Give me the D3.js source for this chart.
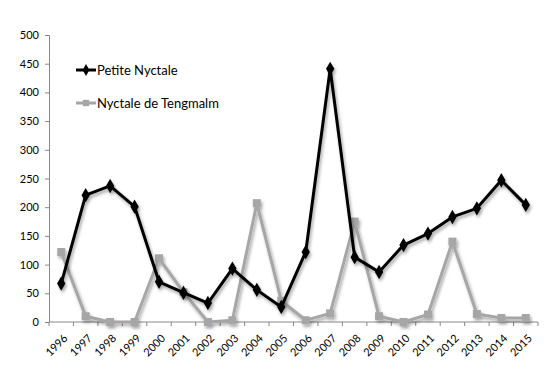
<!DOCTYPE html>
<html>
<head>
<meta charset="utf-8">
<script src="https://d3js.org/d3.v7.min.js"></script>
<style>
body{margin:0;background:#fff;}
text{font-family:Lato,"Open Sans",sans-serif;}
</style>
</head>
<body>
<div id="chart"></div>
<script>
// données
var annees = ["1996","1997","1998","1999","2000","2001","2002","2003","2004","2005","2006","2007","2008","2009","2010","2011","2012","2013","2014","2015"];
var petiteNyctale = [67,221,237,201,70,51,33,93,56,26,122,441,113,87,134,154,183,198,247,204];
var tengmalm = [122,10,0,0,111,52,0,3,207,37,3,15,175,10,0,13,140,14,7,7];
var yTicks = [0,50,100,150,200,250,300,350,400,450,500];

var W = 550, H = 385;
var m = {top:35, right:12, bottom:63, left:49};

var svg = d3.select("#chart").append("svg")
	.attr("width", W).attr("height", H);

var defs = svg.append("defs");
var f = defs.append("filter").attr("id","ombre")
	.attr("x","-20%").attr("y","-20%").attr("width","140%").attr("height","140%");
f.append("feDropShadow").attr("dx",1.5).attr("dy",2.5).attr("stdDeviation",1.6)
	.attr("flood-color","#000").attr("flood-opacity",0.35);

var x = d3.scaleBand().domain(annees).range([m.left, W - m.right]);
var y = d3.scaleLinear().domain([0,500]).range([H - m.bottom, m.top]);

// axe Y
var axeY = svg.append("g")
	.attr("transform","translate(" + m.left + ",0)")
	.call(d3.axisLeft(y).tickValues(yTicks).tickSize(4).tickPadding(6));
axeY.select(".domain").attr("stroke","#888");
axeY.selectAll(".tick line").attr("stroke","#888");
axeY.selectAll("text").attr("font-size","11px").attr("fill","#000");

// axe X (graduations entre les catégories)
var axeX = svg.append("g")
	.attr("transform","translate(0," + (H - m.bottom) + ")");
axeX.append("line")
	.attr("x1", m.left).attr("x2", W - m.right)
	.attr("stroke","#888");
var bords = annees.map(function(d){ return x(d); }).concat([x(annees[annees.length-1]) + x.bandwidth()]);
axeX.selectAll(".grad").data(bords).enter().append("line")
	.attr("x1", function(d){ return d; }).attr("x2", function(d){ return d; })
	.attr("y1",0).attr("y2",4).attr("stroke","#888");
axeX.selectAll(".lab").data(annees).enter().append("text")
	.attr("transform", function(d){
		return "translate(" + (x(d) + x.bandwidth()/2 + 7) + ",17) rotate(-45)";
	})
	.attr("text-anchor","end")
	.attr("font-size","11px")
	.attr("fill","#000")
	.text(function(d){ return d; });

var cx = function(d,i){ return x(annees[i]) + x.bandwidth()/2; };
var ligne = d3.line().x(cx).y(function(d){ return y(d); });

var diamant = d3.symbol().type(d3.symbolDiamond).size(60);
var carre = d3.symbol().type(d3.symbolSquare).size(64);

// série grise
var gGris = svg.append("g").attr("filter","url(#ombre)");
gGris.append("path").datum(tengmalm)
	.attr("d", ligne).attr("fill","none")
	.attr("stroke","#a6a6a6").attr("stroke-width",3).attr("stroke-linejoin","round");
gGris.selectAll("path.pt").data(tengmalm).enter().append("path")
	.attr("class","pt")
	.attr("transform", function(d,i){ return "translate(" + cx(d,i) + "," + y(d) + ")"; })
	.attr("d", carre).attr("fill","#a6a6a6");

// série noire
var gNoir = svg.append("g").attr("filter","url(#ombre)");
gNoir.append("path").datum(petiteNyctale)
	.attr("d", ligne).attr("fill","none")
	.attr("stroke","#000").attr("stroke-width",3).attr("stroke-linejoin","round");
gNoir.selectAll("path.pt").data(petiteNyctale).enter().append("path")
	.attr("class","pt")
	.attr("transform", function(d,i){ return "translate(" + cx(d,i) + "," + y(d) + ")"; })
	.attr("d", diamant).attr("fill","#000");

// légende
var legende = [
	{nom:"Petite Nyctale", couleur:"#000", sym:diamant, y:70},
	{nom:"Nyctale de Tengmalm", couleur:"#a6a6a6", sym:carre, y:103}
];
var lg = svg.selectAll(".leg").data(legende).enter().append("g")
	.attr("transform", function(d){ return "translate(76," + d.y + ")"; });
lg.append("line").attr("x1",0).attr("x2",20)
	.attr("stroke", function(d){ return d.couleur; }).attr("stroke-width",3);
lg.append("path").attr("transform","translate(10,0)")
	.attr("d", function(d){ return d.sym.size(40)(); })
	.attr("fill", function(d){ return d.couleur; });
lg.append("text").attr("x",21).attr("y",5)
	.attr("font-size","13px").attr("fill","#000")
	.text(function(d){ return d.nom; });
</script>
</body>
</html>
